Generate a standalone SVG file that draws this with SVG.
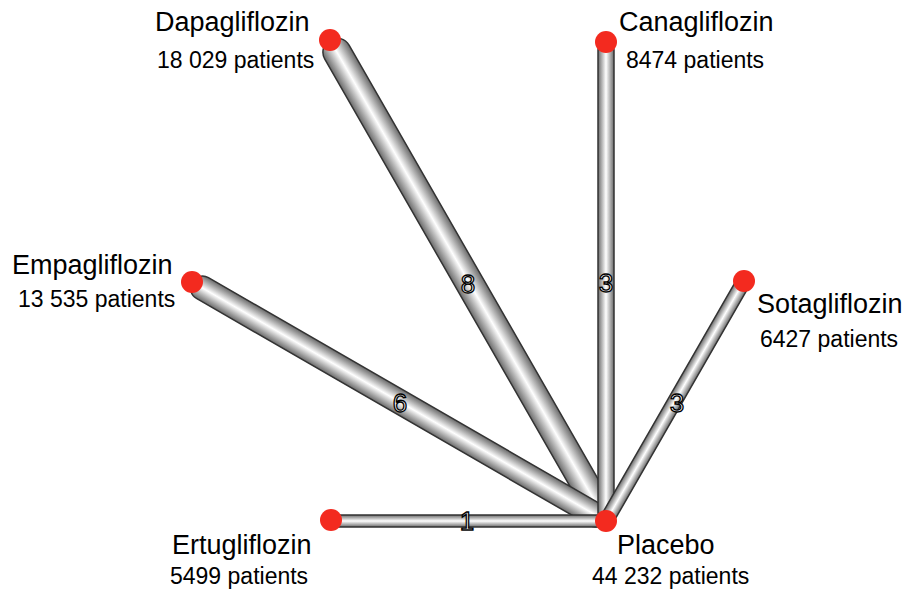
<svg xmlns="http://www.w3.org/2000/svg" width="918" height="599" viewBox="0 0 918 599">
<style>
.t{font-family:"Liberation Sans",Arial,sans-serif;font-size:27px;fill:#000}
.s{font-family:"Liberation Sans",Arial,sans-serif;font-size:23px;fill:#000}
.n{font-family:"Liberation Sans",Arial,sans-serif;font-size:26px;fill:#fff;stroke:#000;stroke-width:1.3;text-anchor:middle;dominant-baseline:central}
.tube{fill:url(#g);stroke:#333;stroke-width:1.5}
.node{fill:#f32a1f}
</style>
<defs>
<linearGradient id="g" x1="0" y1="0" x2="0" y2="1">
<stop offset="0" stop-color="#6a6a6a"/>
<stop offset="0.5" stop-color="#ffffff"/>
<stop offset="1" stop-color="#6a6a6a"/>
</linearGradient>
</defs>
<rect width="918" height="599" fill="#fff"/>
<g id="connectors">
<rect class="tube" transform="translate(606,521) rotate(-119.85)" x="0" y="-14" width="554.6" height="28" rx="14"/>
<rect class="tube" transform="translate(606,521) rotate(-150)" x="0" y="-12" width="478" height="24" rx="12"/>
<rect class="tube" transform="translate(606,521) rotate(-90)" x="0" y="-8" width="479" height="16" rx="8"/>
<rect class="tube" transform="translate(606,521) rotate(-60.1)" x="0" y="-7" width="277" height="14" rx="7"/>
<rect class="tube" transform="translate(606,521) rotate(180)" x="0" y="-6" width="275" height="12" rx="6"/>
<text class="n" x="468" y="284">8</text>
<text class="n" x="606" y="283">3</text>
<text class="n" x="400" y="403">6</text>
<text class="n" x="677" y="403">3</text>
<text class="n" x="467" y="521">1</text>
</g>
<g id="dapagliflozin"><circle class="node" cx="330" cy="40" r="11"/><text class="t" x="155" y="31">Dapagliflozin</text><text class="s" x="157" y="68">18 029 patients</text></g>
<g id="canagliflozin"><circle class="node" cx="606" cy="42" r="11"/><text class="t" x="619" y="31">Canagliflozin</text><text class="s" x="626" y="68">8474 patients</text></g>
<g id="empagliflozin"><circle class="node" cx="192" cy="282" r="11"/><text class="t" x="12" y="274">Empagliflozin</text><text class="s" x="18" y="307">13 535 patients</text></g>
<g id="sotagliflozin"><circle class="node" cx="744" cy="281" r="11"/><text class="t" x="757" y="313">Sotagliflozin</text><text class="s" x="760" y="347">6427 patients</text></g>
<g id="ertugliflozin"><circle class="node" cx="331" cy="520" r="11"/><text class="t" x="172" y="554">Ertugliflozin</text><text class="s" x="170" y="584">5499 patients</text></g>
<g id="placebo"><circle class="node" cx="606" cy="521" r="11"/><text class="t" x="617" y="554">Placebo</text><text class="s" x="592" y="584">44 232 patients</text></g>
</svg>
